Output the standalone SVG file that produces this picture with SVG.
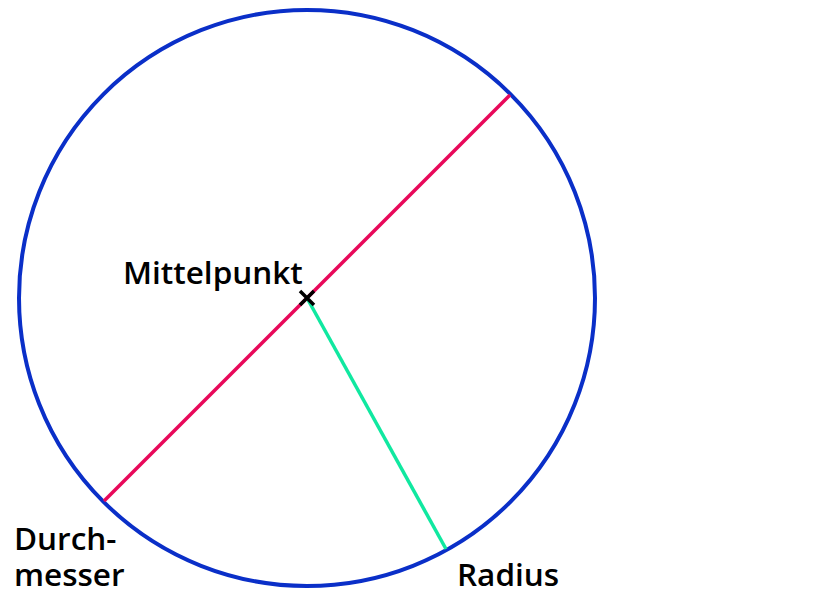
<svg xmlns="http://www.w3.org/2000/svg" width="840" height="600" viewBox="0 0 840 600">
<style>
text{font-family:"Open Sans","Noto Sans",sans-serif;font-size:31.5px;font-weight:600;fill:#000}
</style>
<rect width="840" height="600" fill="#fff"/>
<g id="circle"><circle cx="307" cy="298" r="288" fill="none" stroke="#0A2FC8" stroke-width="4"/></g>
<g id="connectors">
<line id="durchmesser-line" x1="104" y1="501" x2="510" y2="95" stroke="#E8085A" stroke-width="3.5"/>
<line id="radius-line" x1="307" y1="298" x2="446" y2="549" stroke="#10E8A0" stroke-width="3.5"/>
</g>
<g id="mittelpunkt">
<path d="M300 291L314 305M314 291L300 305" stroke="#000" stroke-width="3.5"/>
<text x="123" y="284">Mittelpunkt</text>
</g>
<g id="durchmesser"><text x="14" y="550">Durch-</text><text x="14" y="586">messer</text></g>
<g id="radius"><text x="457" y="586">Radius</text></g>
</svg>
